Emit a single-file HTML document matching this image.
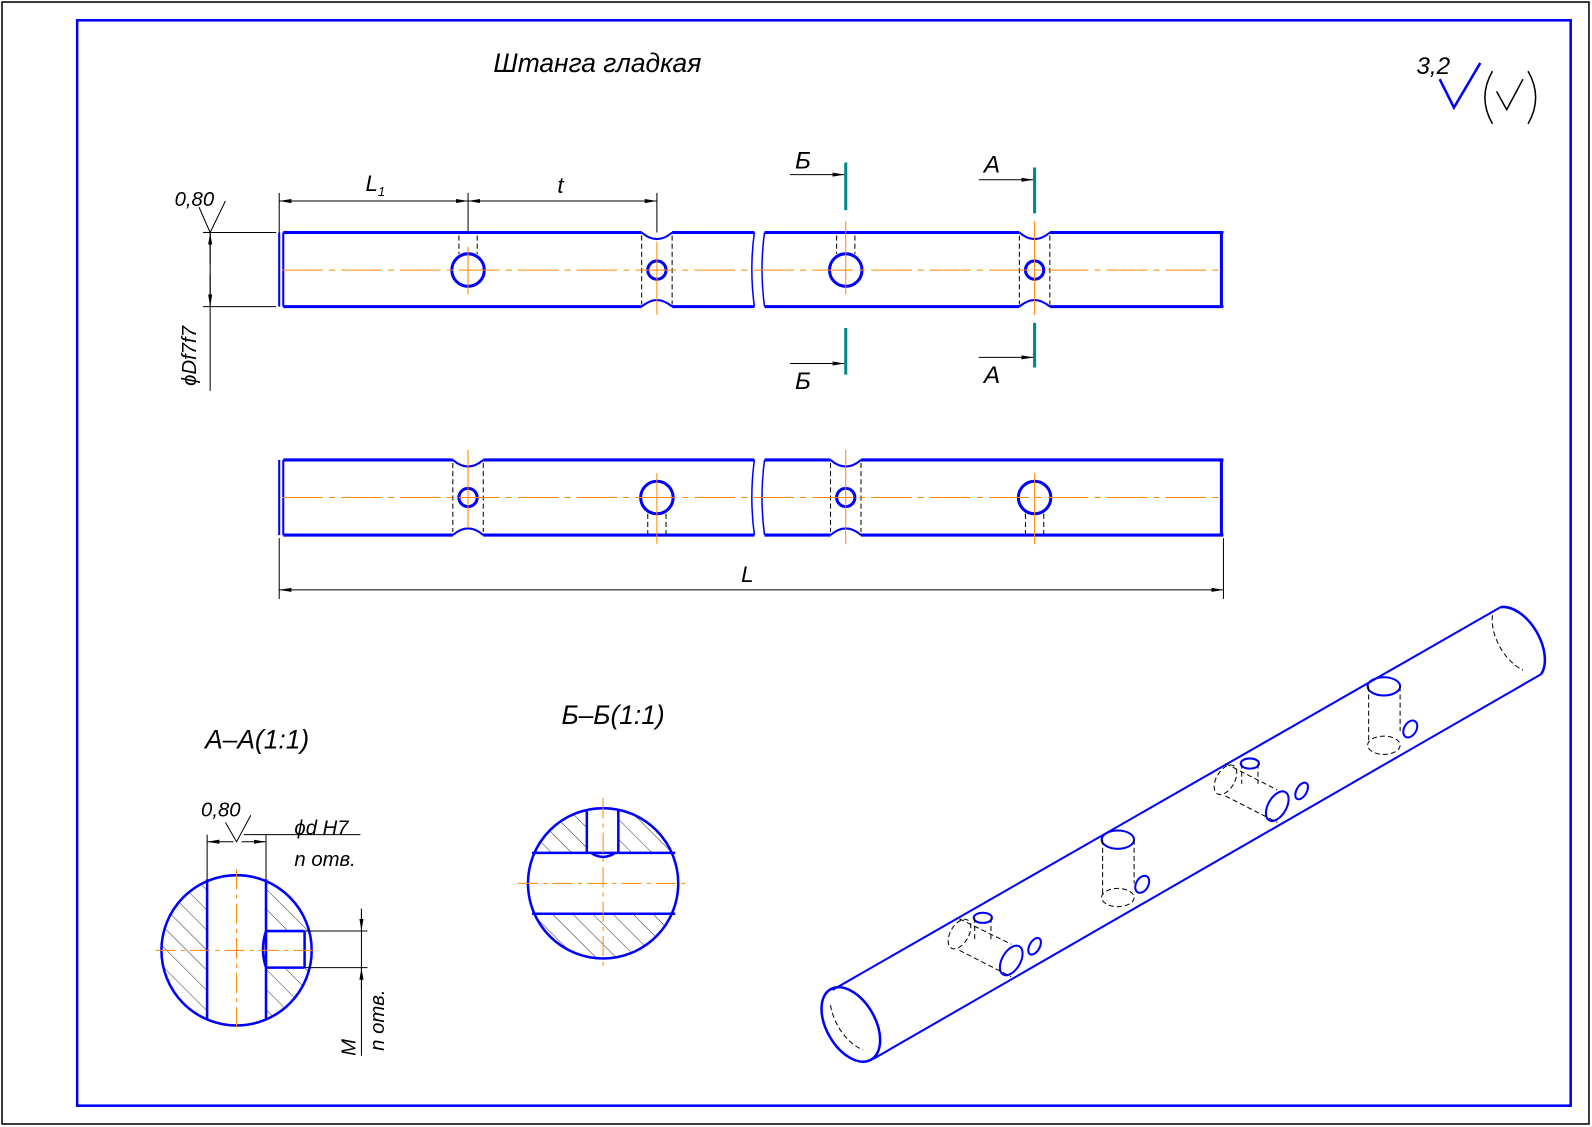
<!DOCTYPE html>
<html><head><meta charset="utf-8"><style>
html,body{margin:0;padding:0;background:#fff;}
svg{display:block;}
text{font-family:"Liberation Sans",sans-serif;font-style:italic;}
</style></head><body>
<svg width="1592" height="1127" viewBox="0 0 1568 1110" preserveAspectRatio="none" xmlns="http://www.w3.org/2000/svg">
<defs>
<pattern id="h" patternUnits="userSpaceOnUse" width="14" height="14" patternTransform="rotate(-45)"><line x1="0" y1="0" x2="0" y2="14" stroke="#000" stroke-width="0.8"/></pattern>
<marker id="ar" markerWidth="12" markerHeight="6" refX="12" refY="3" orient="auto" markerUnits="userSpaceOnUse"><path d="M0,1 L12,3 L0,5z" fill="#000"/></marker>
</defs>
<rect x="2" y="2" width="1563" height="1105" fill="none" stroke="#000" stroke-width="1.5"/>
<rect x="76" y="20" width="1471" height="1069" fill="none" stroke="#00f" stroke-width="2.5"/>
<text x="486" y="71" font-size="26">Штанга гладкая</text>
<text x="1395" y="73" font-size="24">3,2</text>
<path d="M1418,78 L1432,106 L1458,62" fill="none" stroke="#00f" stroke-width="2.5"/>
<path d="M1470,70 Q1455,96 1470,122" fill="none" stroke="#000" stroke-width="1.5"/>
<path d="M1505,70 Q1520,96 1505,122" fill="none" stroke="#000" stroke-width="1.5"/>
<path d="M1474,90 L1484,108 L1500,78" fill="none" stroke="#000" stroke-width="1.5"/>

<g stroke="#00f" stroke-width="3" fill="none">
<path d="M279,229 H632 M662,229 H743 M279,302 H632 M662,302 H743 M753,229 H1004 M1034,229 H1205 M753,302 H1004 M1034,302 H1205 M1203,229 V302"/>
<path d="M275,229 V302 M279,229 V302" stroke-width="2"/>
<path d="M743,229 Q738,265 743,302 M753,229 Q748,265 753,302" stroke-width="1.5"/>
<circle cx="461" cy="266" r="16"/><circle cx="833" cy="266" r="16"/>
<circle cx="647" cy="266" r="9"/><circle cx="1019" cy="266" r="9"/>
<path d="M279,453 H446 M476,453 H743 M279,527 H446 M476,527 H743 M753,453 H818 M848,453 H1205 M753,527 H818 M848,527 H1205 M1203,453 V527"/>
<path d="M275,453 V527 M279,453 V527" stroke-width="2"/>
<path d="M743,453 Q738,490 743,527 M753,453 Q748,490 753,527" stroke-width="1.5"/>
<circle cx="647" cy="490" r="16"/><circle cx="1019" cy="490" r="16"/>
<circle cx="461" cy="490" r="9"/><circle cx="833" cy="490" r="9"/>
</g>
<g stroke="#000" stroke-width="1" stroke-dasharray="5,3" fill="none">
<path d="M632,232 V300 M662,232 V300 M1004,232 V300 M1034,232 V300 M446,456 V524 M476,456 V524 M818,456 V524 M848,456 V524"/>
<path d="M452,232 V250 M470,232 V250 M824,232 V250 M842,232 V250 M638,506 V527 M656,506 V527 M1010,506 V527 M1028,506 V527"/>
</g>
<g stroke="#00f" stroke-width="2" fill="none">
<path d="M632,229 Q647,242 662,229 M632,302 Q647,289 662,302 M1004,229 Q1019,242 1034,229 M1004,302 Q1019,289 1034,302"/>
<path d="M446,453 Q461,466 476,453 M446,527 Q461,514 476,527 M818,453 Q833,466 848,453 M818,527 Q833,514 848,527"/>
</g>
<g stroke="#f80" stroke-width="1" stroke-dasharray="40,6,6,6" fill="none">
<path d="M278,266 H1202 M278,490 H1202"/>
<path d="M461,243 V290 M647,238 V310 M833,218 V290 M1019,218 V310 M461,443 V520 M647,466 V536 M833,443 V536 M1019,466 V536" stroke-dasharray="none"/>
</g>
<g stroke="#000" stroke-width="1" fill="none">
<path d="M275,190 V229 M461,190 V229 M647,190 V229"/>
<path d="M461,198 H275" marker-end="url(#ar)"/><path d="M275,198 H461" marker-end="url(#ar)"/>
<path d="M461,198 H647" marker-end="url(#ar)"/><path d="M647,198 H461" marker-end="url(#ar)"/>
<path d="M200,229 H272 M200,302 H272 M207,229 V385"/>
<path d="M207,260 V229" marker-end="url(#ar)"/><path d="M207,270 V302" marker-end="url(#ar)"/>
<path d="M196,204 L207,229 L222,198"/>
<path d="M275,530 V590 M1205,530 V590"/>
<path d="M740,581 H275" marker-end="url(#ar)"/><path d="M740,581 H1205" marker-end="url(#ar)"/>
<path d="M778,172 H832" marker-end="url(#ar)"/><path d="M778,358 H832" marker-end="url(#ar)"/>
<path d="M964,177 H1018" marker-end="url(#ar)"/><path d="M964,352 H1018" marker-end="url(#ar)"/>
</g>
<g stroke="#088" stroke-width="3"><path d="M833,160 V207 M833,323 V369 M1019,165 V210 M1019,318 V362"/></g>
<g font-size="22" fill="#000">
<text x="360" y="188">L<tspan font-size="13" dy="5">1</tspan></text>
<text x="549" y="190">t</text>
<text x="172" y="203" font-size="20">0,80</text>
<text x="730" y="573">L</text>
<text transform="translate(193,380) rotate(-90)" font-size="20">ϕDf7f7</text>
<text x="783" y="166" font-style="normal" font-size="24">Б</text>
<text x="783" y="383" font-style="normal" font-size="24">Б</text>
<text x="969" y="170" font-style="normal" font-size="24">А</text>
<text x="969" y="377" font-style="normal" font-size="24">А</text>
<text x="202" y="737" font-size="26">А–А(1:1)</text>
<text x="553" y="713" font-size="26">Б–Б(1:1)</text>
<text x="198" y="804" font-size="20">0,80</text>
<text x="290" y="822" font-size="20">ϕd H7</text>
<text x="290" y="853" font-size="20">n отв.</text>
<text transform="translate(350,1040) rotate(-90)" font-size="20">М</text>
<text transform="translate(378,1035) rotate(-90)" font-size="20">n отв.</text>
</g>
<clipPath id="ca"><circle cx="233" cy="936" r="74"/></clipPath>
<g clip-path="url(#ca)">
<rect x="150" y="850" width="54" height="180" fill="url(#h)"/>
<rect x="262" y="850" width="60" height="180" fill="url(#h)"/>
<rect x="262" y="917" width="60" height="36" fill="#fff"/>
</g>
<g stroke="#00f" stroke-width="2.5" fill="none">
<circle cx="233" cy="936" r="74"/>
<path d="M204,866 V1004 M262,866 V1004 M262,917 H300 M262,953 H300 M262,917 Q256,935 262,953 M300,917 V953"/>
</g>
<g stroke="#000" stroke-width="1" fill="none">
<path d="M204,822 V866 M262,822 V866 M240,822 H355 M300,917 H362 M300,953 H362 M356,895 V1040"/>
<path d="M230,829 H204" marker-end="url(#ar)"/><path d="M238,829 H262" marker-end="url(#ar)"/>
<path d="M222,810 L233,829 L247,803"/>
<path d="M356,895 V917" marker-end="url(#ar)"/><path d="M356,975 V953" marker-end="url(#ar)"/>
</g>
<g stroke="#f80" stroke-width="1" stroke-dasharray="20,5,4,5"><path d="M153,936 H313 M233,856 V1016"/></g>
<clipPath id="cb"><circle cx="594" cy="870" r="74"/></clipPath>
<g clip-path="url(#cb)">
<rect x="515" y="790" width="160" height="50" fill="url(#h)"/>
<rect x="515" y="900" width="160" height="50" fill="url(#h)"/>
<rect x="578" y="790" width="31" height="50" fill="#fff"/>
</g>
<g stroke="#00f" stroke-width="2.5" fill="none">
<circle cx="594" cy="870" r="74"/>
<path d="M524,840 H665 M524,900 H665 M578,797 V840 M609,797 V840 M582,840 Q594,848 606,840"/>
</g>
<g stroke="#f80" stroke-width="1" stroke-dasharray="20,5,4,5"><path d="M510,870 H678 M594,786 V952"/></g>
<g stroke="#00f" stroke-width="2" fill="none">
<path d="M820,975 L1478,598 M860,1043 L1518,664"/>
<ellipse cx="838" cy="1009" rx="24" ry="40" transform="rotate(-30 838 1009)" stroke-width="2.5"/>
<path d="M1478,598 A24,40 -30 0 1 1518,664" stroke-width="2.5"/>
<ellipse cx="996" cy="946" rx="9" ry="16" transform="rotate(30 996 946)"/>
<ellipse cx="1019" cy="932" rx="5" ry="9" transform="rotate(30 1019 932)"/>
<ellipse cx="968" cy="904" rx="9" ry="5"/>
<ellipse cx="1101" cy="827" rx="16" ry="9"/>
<ellipse cx="1125" cy="871" rx="6" ry="9" transform="rotate(30 1125 871)"/>
<ellipse cx="1258" cy="794" rx="9" ry="16" transform="rotate(30 1258 794)"/>
<ellipse cx="1282" cy="779" rx="5" ry="9" transform="rotate(30 1282 779)"/>
<ellipse cx="1231" cy="752" rx="9" ry="5"/>
<ellipse cx="1363" cy="676" rx="16" ry="9"/>
<ellipse cx="1389" cy="718" rx="6" ry="9" transform="rotate(30 1389 718)"/>
</g>
<g stroke="#000" stroke-width="1" stroke-dasharray="5,3" fill="none">
<ellipse cx="945" cy="920" rx="9" ry="16" transform="rotate(30 945 920)"/>
<path d="M945,905 L996,930 M945,936 L996,962 M960,904 V925 M976,904 V925"/>
<path d="M1086,827 V880 M1117,827 V870"/>
<ellipse cx="1101" cy="884" rx="16" ry="9"/>
<ellipse cx="1207" cy="768" rx="9" ry="16" transform="rotate(30 1207 768)"/>
<path d="M1207,752 L1258,778 M1207,784 L1258,810 M1223,752 V772 M1239,752 V772"/>
<path d="M1348,676 V730 M1379,676 V720"/>
<ellipse cx="1363" cy="734" rx="16" ry="9"/>
<path d="M1470,606 A24,40 -30 0 0 1500,660"/>
<path d="M818,990 A24,40 -30 0 0 850,1034"/>
</g>
</svg>
</body></html>
